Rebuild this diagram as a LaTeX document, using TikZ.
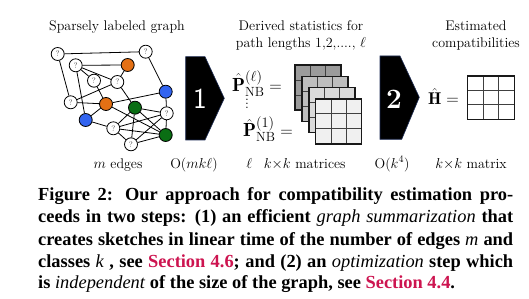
\documentclass[tikz,border=0pt]{standalone}
\usepackage{fontspec}
\newfontfamily\capfont{Liberation Serif}
\definecolor{nodeor}{RGB}{228,112,20}
\definecolor{nodebl}{RGB}{50,100,240}
\definecolor{nodegr}{RGB}{10,110,20}
\definecolor{secred}{RGB}{205,20,80}
\definecolor{chevedge}{RGB}{30,45,85}
\definecolor{mfa}{RGB}{155,155,155}
\definecolor{mfb}{RGB}{190,190,190}
\definecolor{mfc}{RGB}{218,218,218}
\definecolor{mfd}{RGB}{240,240,240}
\begin{document}
\begin{tikzpicture}[x=1pt,y=-1pt,
  gn/.style={circle, draw=black, line width=0.8pt, minimum size=13pt, inner sep=0pt},
  qn/.style={gn, fill=white, font=\fontsize{8}{8}\selectfont, text=black!75},
  on/.style={gn, fill=nodeor},
  bn/.style={gn, fill=nodebl},
  grn/.style={gn, fill=nodegr},
  edge/.style={line width=0.8pt},
  chev/.style={fill=black, draw=chevedge, line width=0.6pt},
  lbl/.style={font=\fontsize{14}{16}\selectfont, inner sep=0pt},
  border/.style={line width=1.5pt, draw=black!90},
  gridline/.style={line width=0.8pt, draw=black!75},
  capline/.style={anchor=base west, inner sep=0pt, font=\capfont\bfseries\fontsize{18.4}{20}\selectfont}
]
\useasboundingbox (0,0) rectangle (529,299);
\fill[white] (0,0) rectangle (529,299);

% ---- titles
\node[lbl] (t1) at (117,27) {Sparsely labeled graph};
\node[lbl, align=center] (t2) at (301,36) {Derived statistics for\\[1pt]path lengths 1,2,...., $\ell$};
\node[lbl, align=center] (t3) at (476,36) {Estimated\\[1pt]compatibilities};

% ---- graph nodes
\node[qn] (q1) at (57.7,54) {?};
\node[qn] (q2) at (145.7,51.7) {?};
\node[qn] (q3) at (75.7,65.3) {?};
\node[on] (o1) at (127.7,65) {};
\node[qn] (q4) at (94,80.7) {?};
\node[qn] (q5) at (117.3,82) {?};
\node[bn] (b1) at (165.7,91.7) {};
\node[qn] (q6) at (70.7,102.3) {?};
\node[on] (o2) at (106,104) {};
\node[grn] (g1) at (135,107.7) {};
\node[qn] (q7) at (166.7,113.3) {?};
\node[bn] (b2) at (85.7,120) {};
\node[qn] (q8) at (113.3,128.3) {?};
\node[grn] (g2) at (165.7,135) {};
\node[qn] (q9) at (131,144.3) {?};

\foreach \a/\b in {q1/q2,q1/q6,q2/b1,q3/o1,q3/q4,q3/q5,q3/b2,q4/o2,q5/o1,q5/q6,q5/g1,
  q6/o2,o2/b1,o2/b2,o2/g2,b1/q7,g1/q7,g1/q8,g1/q9,g1/g2,q7/q8,q7/q9,q7/g2,b2/q8,q8/g2,q8/q9,q9/g2}
  \draw[edge] (\a) -- (\b);

% ---- chevrons
\draw[chev] (185.7,56.7) -- (205,56.7) -- (224.3,98.3) -- (205,140) -- (185.7,140) -- cycle;
\node[text=white, font=\sffamily\fontsize{29}{29}\selectfont, inner sep=0pt] (n1) at (200,99) {1};
\draw[chev] (380,56) -- (400,56) -- (419.3,97.3) -- (401.7,139.3) -- (380,139.3) -- cycle;
\node[text=white, font=\bfseries\fontsize{28}{28}\selectfont, inner sep=0pt] (n2) at (394,99) {2};

% ---- P formulas
\node[anchor=base west, inner sep=0pt, font=\fontsize{19}{19}\selectfont] (p1) at (232,91.5)
  {$\hat{\mathbf{P}}^{(\ell)}_{\mathrm{NB}} =$};
\node[inner sep=0pt, font=\fontsize{14}{14}\selectfont] (vd) at (247,101) {$\vdots$};
\node[anchor=base west, inner sep=0pt, font=\fontsize{19}{19}\selectfont] (p2) at (243,137)
  {$\hat{\mathbf{P}}^{(1)}_{\mathrm{NB}} =$};

% ---- stacked matrices
\foreach \i/\c in {0/mfa,1/mfb,2/mfc,3/mfd} {
  \begin{scope}[shift={(295+6.9*\i,65+11.3*\i)}]
    \fill[\c] (0,0) rectangle (46,45);
    \foreach \t in {1,2} {
      \draw[gridline] (46*\t/3,0) -- (46*\t/3,45);
      \draw[gridline] (0,15*\t) -- (46,15*\t);
    }
    \draw[border] (0,0) rectangle (46,45);
  \end{scope}
}

% ---- H matrix
\node[anchor=base west, inner sep=0pt, font=\fontsize{17}{17}\selectfont] (h) at (428,105)
  {$\hat{\mathbf{H}} =$};
\begin{scope}[shift={(467.3,76)}]
  \fill[white] (0,0) rectangle (47,43.3);
  \foreach \t in {1,2} {
    \draw[gridline] (47*\t/3,0) -- (47*\t/3,43.3);
    \draw[gridline] (0,43.3*\t/3) -- (47,43.3*\t/3);
  }
  \draw[border] (0,0) rectangle (47,43.3);
\end{scope}

% ---- bottom labels
\node[lbl, anchor=base] (l1) at (118,168) {$m$ edges};
\node[lbl, anchor=base] (l2) at (194,168) {O($mk\ell$)};
\node[lbl, anchor=base] (l3) at (296,168) {$\ell$\enspace\ $k{\times}k$ matrices};
\node[lbl, anchor=base] (l4) at (392,168) {O($k^4$)};
\node[lbl, anchor=base] (l5) at (471,168) {$k{\times}k$ matrix};

% ---- caption
\node[capline] (c1) at (38,200) {\makebox[475pt][s]{Figure 2: Our approach for compatibility estimation pro-}};
\node[capline] (c2) at (38,222.5) {\makebox[475pt][s]{ceeds in two steps: (1) an efficient \textit{\mdseries graph summarization} that}};
\node[capline] (c3) at (38,245) {\makebox[475pt][s]{creates sketches in linear time of the number of edges \textit{\mdseries m} and}};
\node[capline] (c4) at (38,267) {\makebox[475pt][s]{classes \textit{\mdseries k} , see \textcolor{secred}{Section 4.6}; and (2) an \textit{\mdseries optimization} step which}};
\node[capline] (c5) at (38,288.5) {is \textit{\mdseries independent} of the size of the graph, see \textcolor{secred}{Section 4.4}.};
\end{tikzpicture}
\end{document}
